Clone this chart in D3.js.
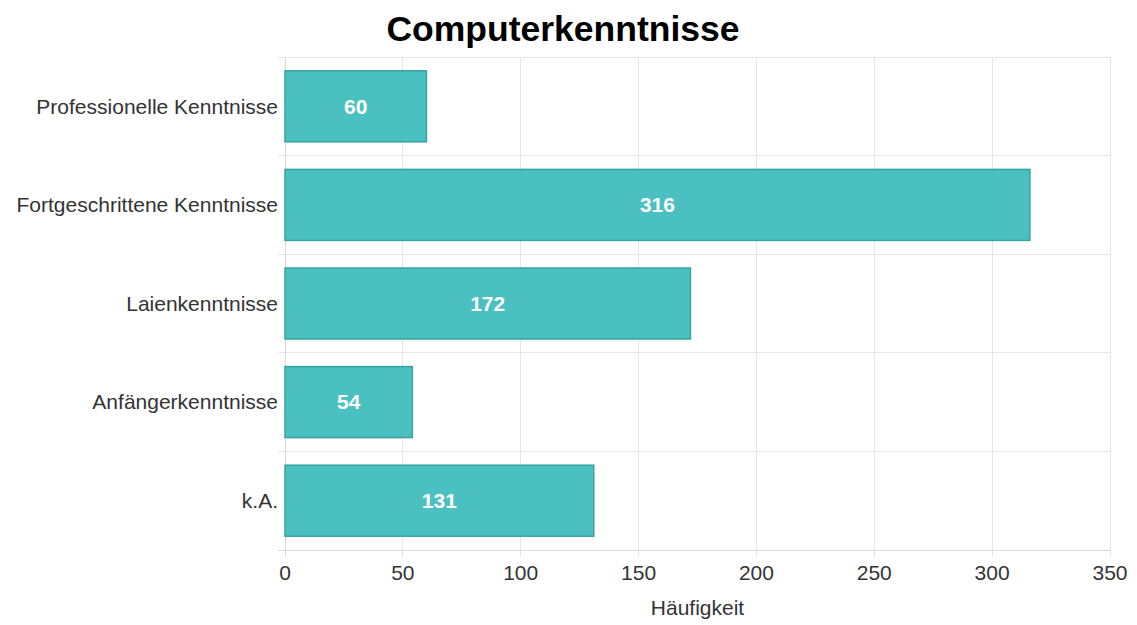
<!DOCTYPE html>
<html><head><meta charset="utf-8">
<script src="https://cdn.jsdelivr.net/npm/d3@7"></script>
<style>body{margin:0;background:#fff}svg{display:block}text{font-family:"Liberation Sans",Arial,Helvetica,sans-serif}</style>
</head><body>
<script>
const categories = ["Professionelle Kenntnisse","Fortgeschrittene Kenntnisse","Laienkenntnisse","Anfängerkenntnisse","k.A."];
const values = [60,316,172,54,131];
const xTicks = [0,50,100,150,200,250,300,350];
const title = "Computerkenntnisse";
const xLabel = "Häufigkeit";

const W=1137,H=625;
const m={left:285,right:27,top:57,bottom:75};
const svg=d3.select("body").append("svg").attr("width",W).attr("height",H);
const x=d3.scaleLinear().domain([0,350]).range([m.left,W-m.right]);
const y=d3.scaleBand().domain(categories).range([m.top,H-m.bottom]).paddingInner(0).paddingOuter(0);
const grid="#e6e6e6";
const g=svg.append("g");
g.selectAll(".vg").data(xTicks).join("line")
 .attr("x1",d=>x(d)).attr("x2",d=>x(d)).attr("y1",m.top).attr("y2",H-m.bottom+7)
 .attr("stroke",grid).attr("stroke-width",1).attr("shape-rendering","crispEdges");
const bounds=categories.map(c=>y(c)).concat([y(categories[categories.length-1])+y.bandwidth()]);
g.selectAll(".hg").data(bounds).join("line")
 .attr("x1",m.left-7).attr("x2",W-m.right).attr("y1",d=>d).attr("y2",d=>d)
 .attr("stroke",grid).attr("stroke-width",1).attr("shape-rendering","crispEdges");
g.append("line").attr("x1",m.left).attr("x2",m.left).attr("y1",m.top).attr("y2",H-m.bottom+7).attr("stroke","#d9d9d9").attr("shape-rendering","crispEdges");
g.append("line").attr("x1",m.left-7).attr("x2",W-m.right).attr("y1",H-m.bottom).attr("y2",H-m.bottom).attr("stroke","#d9d9d9").attr("shape-rendering","crispEdges");
const bh=y.bandwidth()*0.72;
const off=(y.bandwidth()-bh)/2;
svg.selectAll(".bar").data(values).join("rect")
 .attr("x",x(0)).attr("y",(d,i)=>y(categories[i])+off)
 .attr("width",d=>x(d)-x(0)).attr("height",bh)
 .attr("fill","#4bc0c0").attr("stroke","#36a2a2").attr("stroke-width",1.5);
svg.selectAll(".vl").data(values).join("text")
 .attr("x",d=>(x(0)+x(d))/2).attr("y",(d,i)=>y(categories[i])+y.bandwidth()/2)
 .attr("dy","0.35em").attr("text-anchor","middle").attr("fill","#fff")
 .attr("font-weight","bold").attr("font-size",21).text(d=>d);
svg.selectAll(".yl").data(categories).join("text")
 .attr("x",m.left-7).attr("y",d=>y(d)+y.bandwidth()/2).attr("dy","0.35em")
 .attr("text-anchor","end").attr("fill","#333").attr("font-size",21).text(d=>d);
svg.selectAll(".xl").data(xTicks).join("text")
 .attr("x",d=>x(d)).attr("y",H-m.bottom+30).attr("text-anchor","middle")
 .attr("fill","#333").attr("font-size",21).text(d=>d);
svg.append("text").attr("x",(x(0)+x(350))/2).attr("y",615).attr("text-anchor","middle")
 .attr("fill","#333").attr("font-size",21).text(xLabel);
svg.append("text").attr("x",563).attr("y",41).attr("text-anchor","middle")
 .attr("fill","#000").attr("font-weight","bold").attr("font-size",35.5).text(title);
</script>
</body></html>
